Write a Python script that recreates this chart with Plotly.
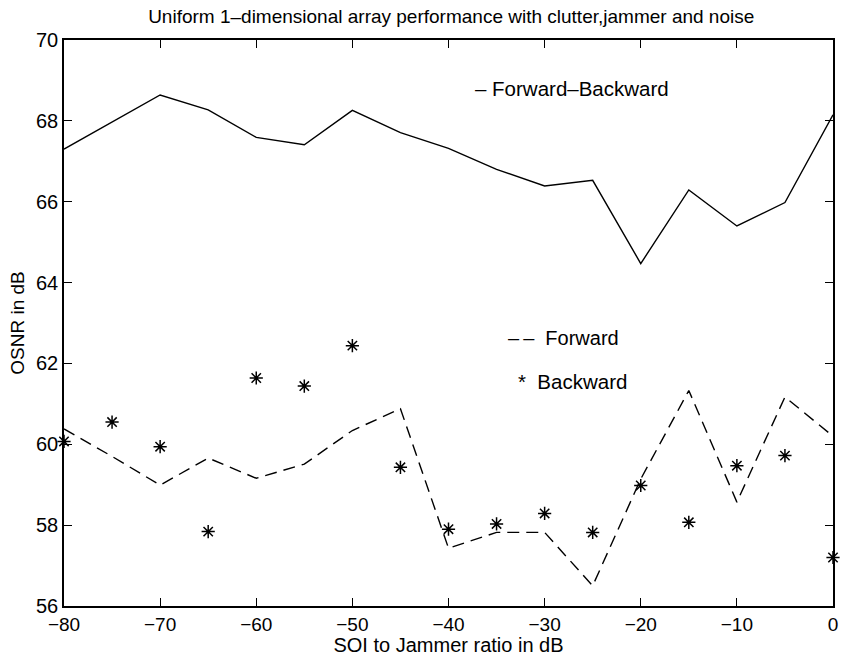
import plotly.graph_objects as go

snr = [-80, -75, -70, -65, -60, -55, -50, -45, -40, -35, -30, -25, -20, -15, -10, -5, 0]
fwd_bwd = [67.30, 67.97, 68.64, 68.27, 67.59, 67.41, 68.26, 67.71, 67.32, 66.80, 66.39, 66.53, 64.47, 66.29, 65.40, 65.98, 68.15]
forward = [60.38, 59.70, 58.99, 59.66, 59.16, 59.51, 60.34, 60.88, 57.43, 57.82, 57.82, 56.50, 59.14, 61.33, 58.57, 61.17, 60.20]
backward = [60.07, 60.55, 59.94, 57.84, 61.64, 61.44, 62.44, 59.43, 57.90, 58.03, 58.29, 57.82, 58.98, 58.07, 59.47, 59.72, 57.20]

x_ticks = [-80, -70, -60, -50, -40, -30, -20, -10, 0]
y_ticks = [56, 58, 60, 62, 64, 66, 68, 70]

font = "Liberation Sans, Arial, Helvetica, sans-serif"

fig = go.Figure()
fig.add_trace(go.Scatter(x=snr, y=fwd_bwd, mode="lines",
                         line=dict(color="black", width=1.4), showlegend=False))
fig.add_trace(go.Scatter(x=snr, y=forward, mode="lines",
                         line=dict(color="black", width=1.4, dash="12px,7px"), showlegend=False))
fig.add_trace(go.Scatter(x=snr, y=backward, mode="markers",
                         marker=dict(symbol="asterisk-open", size=11, color="black",
                                     line=dict(color="black", width=1.5)),
                         showlegend=False, cliponaxis=False))

fig.add_annotation(x=-37.5, y=68.79, text="\u2013 Forward\u2013Backward", showarrow=False,
                   xanchor="left", yanchor="middle", font=dict(size=20.5, color="black", family=font))
fig.add_annotation(x=-34.0, y=62.63, text="\u2013\u2009\u2013  Forward", showarrow=False,
                   xanchor="left", yanchor="middle", font=dict(size=20, color="black", family=font))
fig.add_annotation(x=-33.0, y=61.56, text="*  Backward", showarrow=False,
                   xanchor="left", yanchor="middle", font=dict(size=20.5, color="black", family=font))

fig.update_layout(
    width=845, height=656,
    margin=dict(l=64, r=7, t=40, b=49),
    paper_bgcolor="white", plot_bgcolor="white",
    font=dict(family=font, color="black"),
    title=dict(text="Uniform 1\u2013dimensional array performance with clutter,jammer and noise",
               x=0.534, xanchor="center", y=0.985, yanchor="top",
               font=dict(size=19, color="black", family=font)),
)
fig.update_xaxes(range=[-80, 0], tickvals=x_ticks, ticktext=["\u2212" + str(-v) if v < 0 else str(v) for v in x_ticks],
                 ticks="inside", ticklen=8, tickwidth=1, tickcolor="black",
                 showline=True, linecolor="black", linewidth=1.5, mirror="ticks",
                 showgrid=False, zeroline=False,
                 tickfont=dict(size=19, color="black", family=font),
                 title=dict(text="SOI to Jammer ratio in dB", standoff=0,
                            font=dict(size=20, color="black", family=font)))
fig.update_yaxes(range=[56, 70], tickvals=y_ticks,
                 ticks="inside", ticklen=8, tickwidth=1, tickcolor="black",
                 showline=True, linecolor="black", linewidth=1.5, mirror="ticks",
                 showgrid=False, zeroline=False,
                 tickfont=dict(size=20, color="black", family=font),
                 title=dict(text="OSNR in dB", standoff=6,
                            font=dict(size=19, color="black", family=font)))

fig.write_html("out.html")
